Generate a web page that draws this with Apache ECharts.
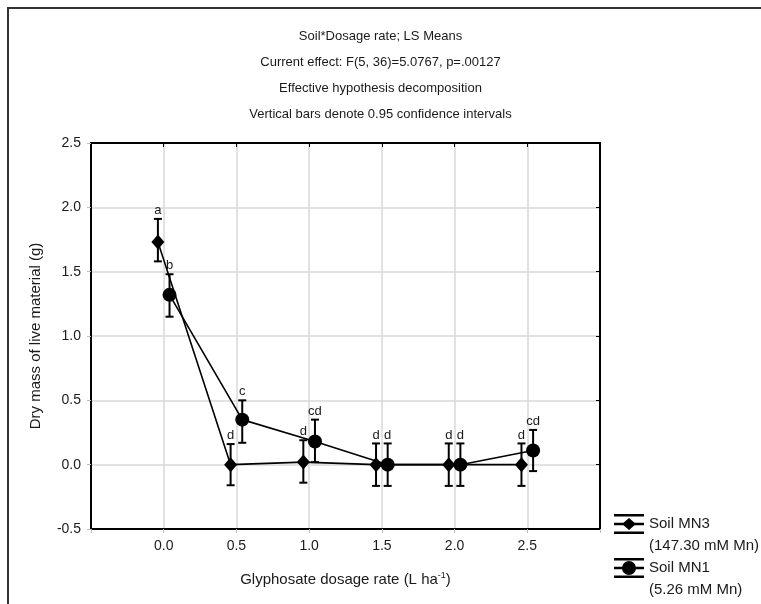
<!DOCTYPE html>
<html>
<head>
<meta charset="utf-8">
<script src="https://cdn.jsdelivr.net/npm/echarts@6/dist/echarts.min.js"></script>
<style>
html,body{margin:0;padding:0;background:#fff;}
#chart{width:761px;height:604px;}
</style>
</head>
<body>
<div id="chart"></div>
<script>
// ---- data ----
const doses = [0.0, 0.5, 1.0, 1.5, 2.0, 2.5];
const mn3Mean  = [1.73, 0.00, 0.02, 0.00, 0.00, 0.00];
const mn3Lower = [1.58, -0.16, -0.14, -0.165, -0.165, -0.165];
const mn3Upper = [1.91, 0.16, 0.19, 0.165, 0.165, 0.165];
const mn3Letters = ['a', 'd', 'd', 'd', 'd', 'd'];
const mn1Mean  = [1.32, 0.35, 0.18, 0.00, 0.00, 0.11];
const mn1Lower = [1.15, 0.17, 0.02, -0.165, -0.165, -0.05];
const mn1Upper = [1.48, 0.50, 0.35, 0.165, 0.165, 0.27];
const mn1Letters = ['b', 'c', 'cd', 'd', 'd', 'cd'];
const xTickLabels = ['0.0', '0.5', '1.0', '1.5', '2.0', '2.5'];
const yTickLabels = ['-0.5', '0.0', '0.5', '1.0', '1.5', '2.0', '2.5'];
const seriesNames = ['Soil MN3', 'Soil MN1'];
const seriesSub = ['(147.30 mM Mn)', '(5.26 mM Mn)'];
const titleLines = [
  'Soil*Dosage rate; LS Means',
  'Current effect: F(5, 36)=5.0767, p=.00127',
  'Effective hypothesis decomposition',
  'Vertical bars denote 0.95 confidence intervals'
];

const FONT = '"Liberation Sans", Arial, sans-serif';
const TXT = '#1a1a1a';
const JIT = 0.04; // horizontal dodge between the two soils

function pts(mean, sh) { return doses.map((d, i) => [d + sh, mean[i]]); }
function errs(lo, hi, sh) { return doses.map((d, i) => [d + sh, lo[i], hi[i]]); }

function errRender(letters) {
  return function (params, api) {
    const x = api.value(0), lo = api.value(1), hi = api.value(2);
    const t = api.coord([x, hi]);
    const b = api.coord([x, lo]);
    const cw = 4;
    const st = { stroke: '#000', lineWidth: 2 };
    return {
      type: 'group',
      children: [
        { type: 'line', shape: { x1: t[0], y1: t[1], x2: b[0], y2: b[1] }, style: st },
        { type: 'line', shape: { x1: t[0] - cw, y1: t[1], x2: t[0] + cw, y2: t[1] }, style: st },
        { type: 'line', shape: { x1: b[0] - cw, y1: b[1], x2: b[0] + cw, y2: b[1] }, style: st },
        { type: 'text', style: { text: letters[params.dataIndex], x: t[0], y: t[1] - 2,
            align: 'center', verticalAlign: 'bottom', fill: TXT, font: '13px ' + FONT } }
      ]
    };
  };
}

const diamondIcon = 'path://M0 0H30V2.5H0Z M0 8.75H30V11.25H0Z M0 17.5H30V20H0Z M8 10L15 4L22 10L15 16Z';
const circleIcon = 'path://M0 0H30V2.5H0Z M0 8.75H30V11.25H0Z M0 17.5H30V20H0Z M8 10A7 7 0 1 1 22 10A7 7 0 1 1 8 10Z';

const chart = echarts.init(document.getElementById('chart'), null, { renderer: 'canvas' });
const option = {
  backgroundColor: '#fff',
  animation: false,
  title: {
    text: titleLines.join('\n'),
    left: 'center',
    top: 19,
    textStyle: { fontFamily: FONT, fontSize: 13, fontWeight: 'normal', color: TXT, lineHeight: 25.7 }
  },
  grid: {
    left: 91, right: 161, top: 143, bottom: 75, containLabel: false,
    show: true, borderColor: '#000', borderWidth: 2, backgroundColor: '#fff'
  },
  legend: {
    orient: 'vertical', left: 614, top: 514, padding: 0,
    itemWidth: 30, itemHeight: 20, itemGap: 24,
    textStyle: { fontFamily: FONT, fontSize: 15, color: TXT },
    data: [
      { name: seriesNames[0], icon: diamondIcon },
      { name: seriesNames[1], icon: circleIcon }
    ]
  },
  graphic: [
    { type: 'rect', shape: { x: 8, y: 8, width: 900, height: 800 }, style: { fill: 'none', stroke: '#333', lineWidth: 2 }, silent: true, z: 100 },
    { type: 'text', left: 649, top: 538, style: { text: seriesSub[0], font: '15px ' + FONT, fill: TXT } },
    { type: 'text', left: 649, top: 582, style: { text: seriesSub[1], font: '15px ' + FONT, fill: TXT } }
  ],
  xAxis: [{
    type: 'value', min: -0.5, max: 3.0, interval: 0.5,
    name: 'Glyphosate dosage rate (L ha{sup|-1})',
    nameLocation: 'middle', nameGap: 42,
    nameTextStyle: { fontFamily: FONT, fontSize: 15, color: TXT,
      rich: { sup: { fontSize: 9, fontFamily: FONT, color: TXT, padding: [0, 0, 8, 0] } } },
    axisLine: { show: true, onZero: false, lineStyle: { color: '#000', width: 2 } },
    axisTick: { show: true, inside: false, length: 4, lineStyle: { color: '#bbb' } },
    axisLabel: {
      fontFamily: FONT, fontSize: 14, color: TXT, margin: 10,
      formatter: function (v) {
        const i = doses.findIndex(d => Math.abs(d - v) < 1e-6);
        return i >= 0 ? xTickLabels[i] : '';
      }
    },
    splitLine: { show: true, lineStyle: { color: '#d9d9d9', width: 1.5 } }
  }, {
    type: 'value', min: -0.5, max: 3.0, interval: 0.5, position: 'top',
    axisLine: { show: true, onZero: false, lineStyle: { color: '#000', width: 2 } },
    axisTick: { show: true, inside: true, length: 4, lineStyle: { color: '#000' } },
    axisLabel: { show: false }, splitLine: { show: false }
  }],
  yAxis: [{
    type: 'value', min: -0.5, max: 2.5, interval: 0.5,
    name: 'Dry mass of live material (g)',
    nameLocation: 'middle', nameGap: 48,
    nameTextStyle: { fontFamily: FONT, fontSize: 15, color: TXT },
    axisLine: { show: true, onZero: false, lineStyle: { color: '#000', width: 2 } },
    axisTick: { show: true, inside: false, length: 4, lineStyle: { color: '#bbb' } },
    axisLabel: {
      fontFamily: FONT, fontSize: 14, color: TXT, margin: 10,
      formatter: function (v) {
        const i = Math.round((v + 0.5) / 0.5);
        return yTickLabels[i] !== undefined ? yTickLabels[i] : '';
      }
    },
    splitLine: { show: true, lineStyle: { color: '#d9d9d9', width: 1.5 } }
  }, {
    type: 'value', min: -0.5, max: 2.5, interval: 0.5, position: 'right',
    axisLine: { show: true, onZero: false, lineStyle: { color: '#000', width: 2 } },
    axisTick: { show: true, inside: true, length: 4, lineStyle: { color: '#000' } },
    axisLabel: { show: false }, splitLine: { show: false }
  }],
  series: [
    {
      type: 'custom', name: 'mn3err', xAxisIndex: 0, yAxisIndex: 0,
      renderItem: errRender(mn3Letters), data: errs(mn3Lower, mn3Upper, -JIT),
      encode: { x: 0, y: [1, 2] }, z: 3, silent: true
    },
    {
      type: 'custom', name: 'mn1err', xAxisIndex: 0, yAxisIndex: 0,
      renderItem: errRender(mn1Letters), data: errs(mn1Lower, mn1Upper, JIT),
      encode: { x: 0, y: [1, 2] }, z: 3, silent: true
    },
    {
      type: 'line', name: seriesNames[0], data: pts(mn3Mean, -JIT),
      symbol: 'diamond', symbolSize: [13, 15], showAllSymbol: true,
      lineStyle: { color: '#000', width: 1.6 }, itemStyle: { color: '#000' },
      z: 5
    },
    {
      type: 'line', name: seriesNames[1], data: pts(mn1Mean, JIT),
      symbol: 'circle', symbolSize: 14, showAllSymbol: true,
      lineStyle: { color: '#000', width: 1.6 }, itemStyle: { color: '#000' },
      z: 5
    }
  ]
};
chart.setOption(option);
</script>
</body>
</html>
